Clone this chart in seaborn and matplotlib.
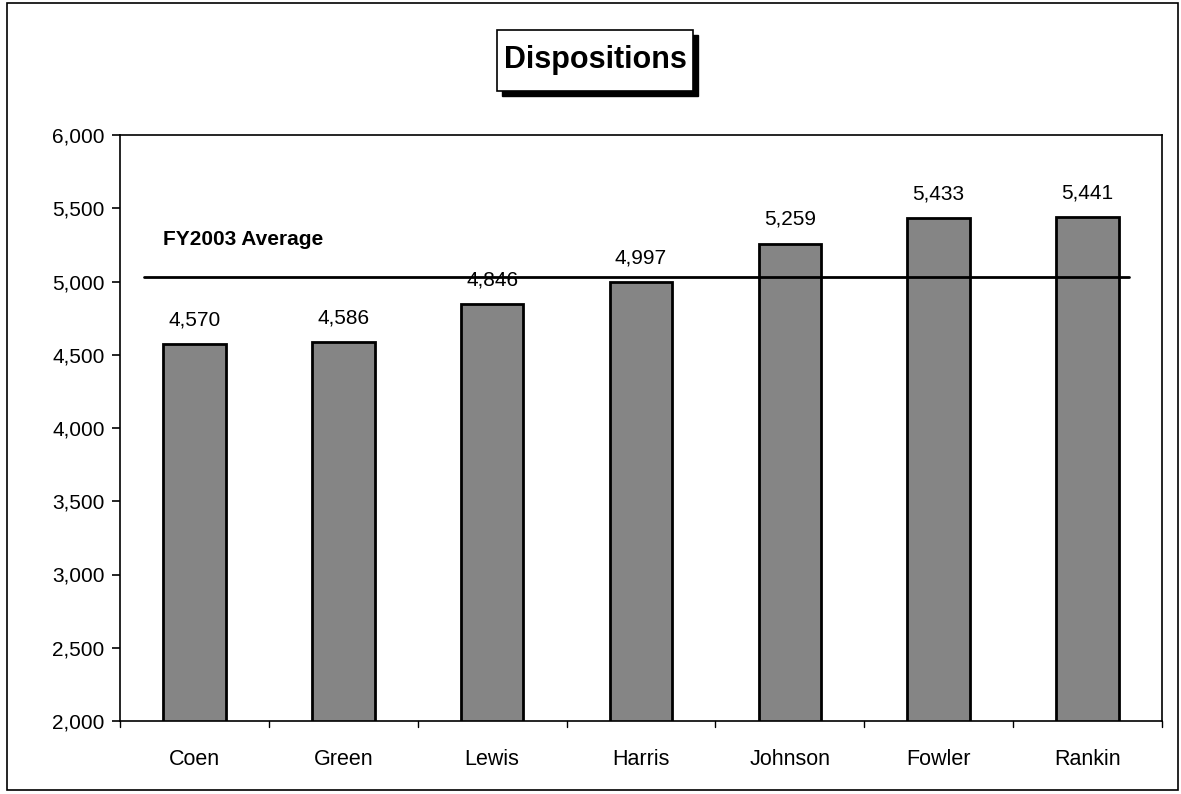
import matplotlib
matplotlib.use("Agg")
import matplotlib.pyplot as plt
import seaborn as sns
import pandas as pd
from matplotlib.patches import Rectangle

judges = ["Coen", "Green", "Lewis", "Harris", "Johnson", "Fowler", "Rankin"]
dispositions = [4570, 4586, 4846, 4997, 5259, 5433, 5441]
value_labels = ["4,570", "4,586", "4,846", "4,997", "5,259", "5,433", "5,441"]
fy2003_average = 5030
y_ticks = [2000, 2500, 3000, 3500, 4000, 4500, 5000, 5500, 6000]

sns.set_theme(style="white")
plt.rcParams['font.family'] = ['Liberation Sans', 'DejaVu Sans']
plt.rcParams['text.color'] = 'black'
plt.rcParams['xtick.color'] = 'black'
plt.rcParams['ytick.color'] = 'black'

df = pd.DataFrame({"judge": judges, "value": dispositions})

fig = plt.figure(figsize=(11.81, 7.94), dpi=100)
ax = fig.add_axes([120/1181, 1 - 721/794, (1162-120)/1181, (721-135)/794])

sns.barplot(data=df, x="judge", y="value", color="#858585", width=0.42,
            edgecolor="black", linewidth=2, saturation=1, ax=ax)

ax.set_ylim(2000, 6000)
ax.set_xlim(-0.5, 6.5)
ax.set_yticks(y_ticks)
ax.set_yticklabels([f"{v:,}" for v in y_ticks], fontsize=15)
ax.set_xticks(range(len(judges)))
ax.set_xticklabels(judges, fontsize=15.5)
ax.set_xlabel("")
ax.set_ylabel("")
ax.tick_params(axis="x", length=0, pad=20)
ax.tick_params(axis="y", length=6, width=1.2, direction="out", left=True, pad=5)
for s in ax.spines.values():
    s.set_color("black")
    s.set_linewidth(1.2)

# boundary ticks on x axis
for b in [i + 0.5 for i in range(-1, 7)]:
    ax.plot([b, b], [2000, 1960], color="black", lw=1.0, clip_on=False)

for i, (v, lab) in enumerate(zip(dispositions, value_labels)):
    ax.text(i, v + 100, lab, ha="center", va="bottom", fontsize=15)

ax.plot([-0.34, 6.28], [fy2003_average, fy2003_average], color="black", lw=2, zorder=5)
ax.text(-0.21, 5290, "FY2003 Average", ha="left", va="center", fontsize=15, fontweight="bold")

# title box with shadow
fig.patches.append(Rectangle((502/1181, 1 - 96/794), 196/1181, 61/794, transform=fig.transFigure,
                             facecolor="black", edgecolor="black", zorder=1))
fig.patches.append(Rectangle((497/1181, 1 - 91/794), 196/1181, 61/794, transform=fig.transFigure,
                             facecolor="white", edgecolor="black", lw=1.2, zorder=2))
fig.text(595/1181, 1 - 60/794, "Dispositions", ha="center", va="center",
         fontsize=22, fontweight="bold", zorder=3)

# outer border
fig.patches.append(Rectangle((7/1181, 1 - 790/794), 1171/1181, 787/794, transform=fig.transFigure,
                             facecolor="none", edgecolor="black", lw=1.2, zorder=0))

fig.savefig("out.png", dpi=100)
